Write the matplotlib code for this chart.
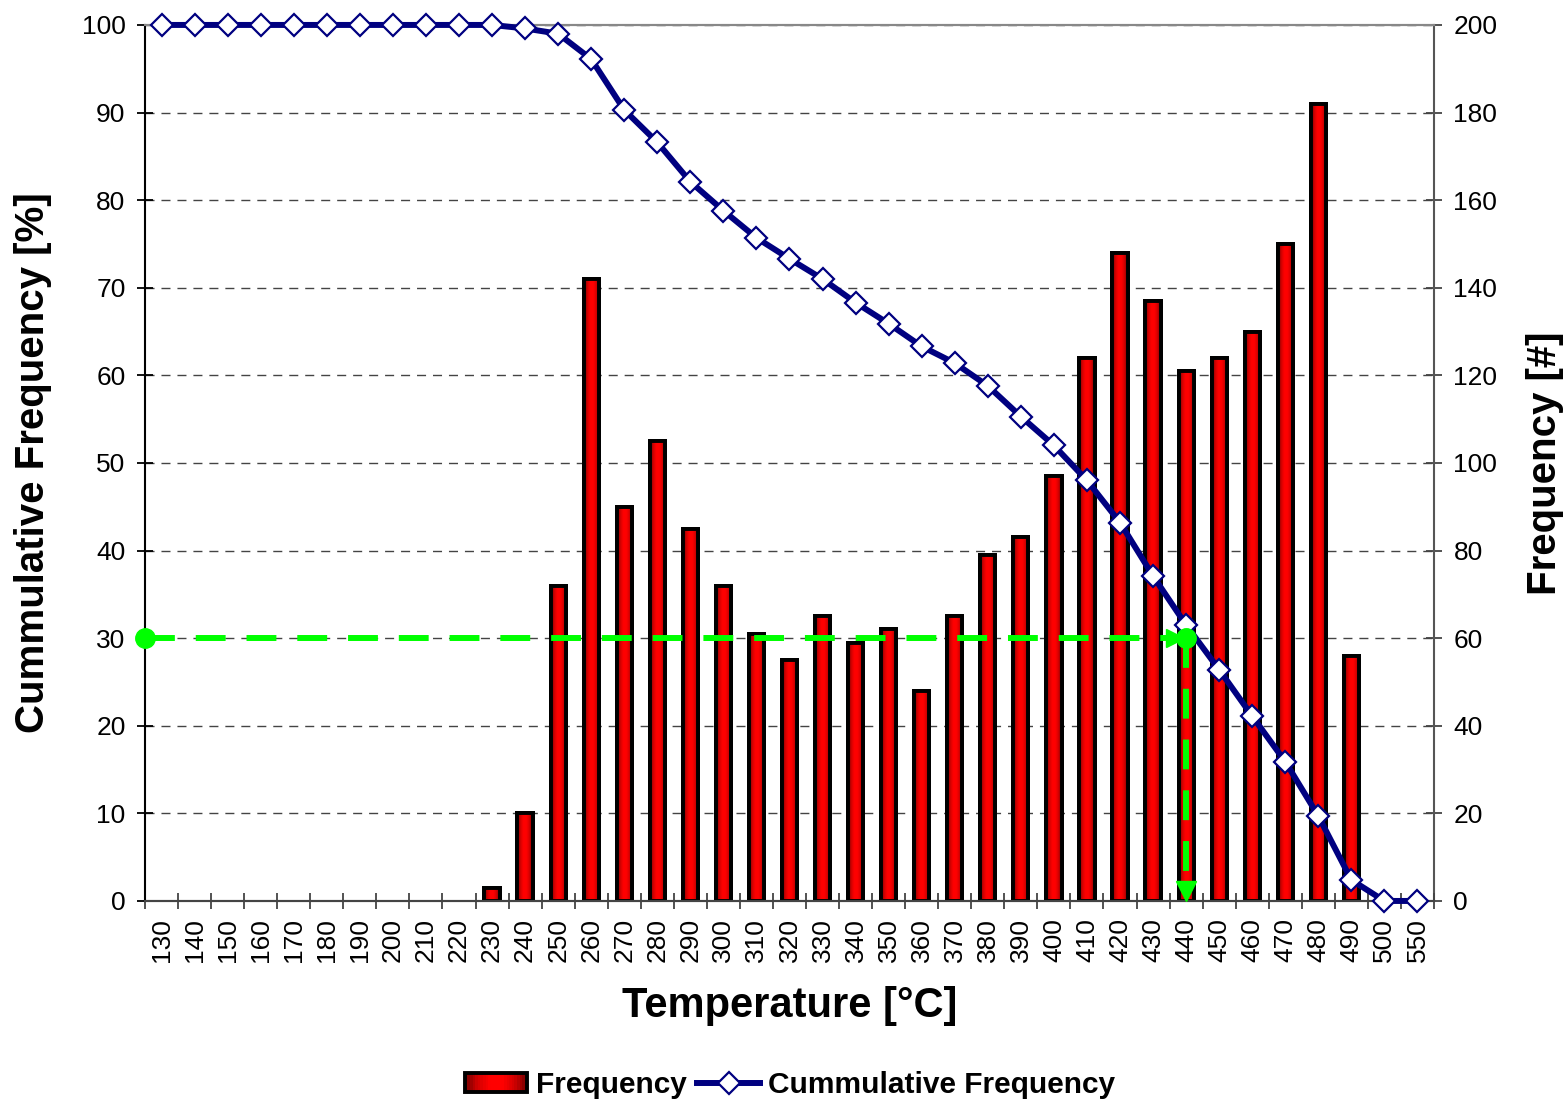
import numpy as np
import matplotlib
matplotlib.use("Agg")
import matplotlib.pyplot as plt
from matplotlib.colors import LinearSegmentedColormap
from matplotlib.patches import Rectangle
from matplotlib.lines import Line2D
from matplotlib.legend_handler import HandlerBase

plt.rcParams['font.family'] = ['Liberation Sans', 'DejaVu Sans']

# Temperature classes
temperatures = ["130", "140", "150", "160", "170", "180", "190", "200", "210", "220",
                "230", "240", "250", "260", "270", "280", "290", "300", "310", "320",
                "330", "340", "350", "360", "370", "380", "390", "400", "410", "420",
                "430", "440", "450", "460", "470", "480", "490", "500", "550"]

# Number of samples per class [#]
frequency = [0, 0, 0, 0, 0, 0, 0, 0, 0, 0,
             3, 20, 72, 142, 90, 105, 85, 72, 61, 55,
             65, 59, 62, 48, 65, 79, 83, 97, 124, 148,
             137, 121, 124, 130, 150, 182, 56, 0, 0]

# Share of samples at or above each class [%]
cumulative = [100, 100, 100, 100, 100, 100, 100, 100, 100, 100,
              100, 99.6, 99.0, 96.1, 90.3, 86.6, 82.1, 78.8, 75.7, 73.3,
              71.0, 68.3, 65.9, 63.3, 61.4, 58.8, 55.3, 52.0, 48.0, 43.2,
              37.1, 31.5, 26.4, 21.1, 15.9, 9.7, 2.4, 0, 0]

# Reading marker: 30 % exceeded at 440 °C
marker_level = 30
marker_temp = "440"

x = np.arange(len(temperatures))
bar_w = 0.46
edge_lw = 2.8
navy = "#000080"

fig = plt.figure(figsize=(15.66, 10.99), dpi=100)
ax = fig.add_axes([0.0926, 0.1802, 0.8231, 0.7971])
ax2 = ax.twinx()
ax.set_zorder(2)
ax2.set_zorder(1)
ax.patch.set_visible(False)

# Bars with a horizontal dark-bright-dark shading
bar_cmap = LinearSegmentedColormap.from_list(
    "barshade", ["#6e0000", "#d00000", "#ff0000", "#ff0000", "#d00000", "#6e0000"])
grad = np.linspace(0, 1, 64).reshape(1, -1)
bars = ax2.bar(x, frequency, width=bar_w, color="#ff0000", edgecolor="black",
               linewidth=edge_lw, zorder=3)
for rect in bars:
    h = rect.get_height()
    if h <= 0:
        rect.set_visible(False)
        continue
    x0 = rect.get_x()
    im = ax2.imshow(grad, extent=[x0, x0 + rect.get_width(), 0, h], aspect="auto",
                    cmap=bar_cmap, interpolation="bicubic", zorder=3.5)
    im.set_clip_path(rect)
    outline = Rectangle((x0, 0), rect.get_width(), h, fill=False,
                        edgecolor="black", linewidth=edge_lw, zorder=4)
    ax2.add_patch(outline)

ax2.set_ylim(0, 200)
ax2.set_yticks(np.arange(0, 201, 20))
ax2.set_axisbelow(True)
ax2.yaxis.grid(True, color="#444444", linestyle=(0, (6.5, 5)), linewidth=1.0)
ax2.set_ylabel("Frequency [#]", fontsize=29, fontweight="bold")
ax2.yaxis.set_label_coords(1.071, 0.5)

# Cumulative curve
ax.plot(x, cumulative, color=navy, linewidth=4.3, marker="D", markersize=11.5,
        markerfacecolor="white", markeredgecolor=navy, markeredgewidth=1.6,
        zorder=5, clip_on=False)

ax.set_ylim(0, 100)
ax.set_yticks(np.arange(0, 101, 10))
ax.set_xlim(-0.5, len(temperatures) - 0.5)
ax.set_ylabel("Cummulative Frequency [%]", fontsize=29, fontweight="bold")
ax.yaxis.set_label_coords(-0.072, 0.5)
ax.set_xlabel("Temperature [°C]", fontsize=30, fontweight="bold")
ax.xaxis.set_label_coords(0.5, -0.097)

# Green reading lines
xi = temperatures.index(marker_temp)
green = "#00ff00"
ax.plot([-0.5, xi], [marker_level, marker_level], color=green, linewidth=4.3,
        dashes=(5, 3.5), zorder=6, clip_on=False)
ax.plot([xi, xi], [marker_level, 1.5], color=green, linewidth=4.3,
        dashes=(5, 3.5), zorder=6, clip_on=False)
ax.plot([-0.5], [marker_level], "o", color=green, markersize=14, zorder=7, clip_on=False)
ax.plot([xi], [marker_level], "o", color=green, markersize=14, zorder=7, clip_on=False)
ax.plot([xi - 0.33], [marker_level], ">", color=green, markersize=13, zorder=7, clip_on=False)
ax.plot([xi], [1.1], "v", color=green, markersize=14, zorder=7, clip_on=False)

# Axis ticks and spines
ax.set_xticks(x)
ax.set_xticklabels(temperatures, rotation=90)
ax.set_xticks(np.arange(-0.5, len(temperatures), 1), minor=True)
ax.tick_params(axis="x", which="major", length=0, labelsize=19, pad=12)
ax.tick_params(axis="x", which="minor", length=12, direction="inout", width=1.3,
               color="#444444")
ax.tick_params(axis="y", labelsize=19, length=12, direction="inout", width=1.3, pad=8)
ax2.tick_params(axis="y", labelsize=19, length=12, direction="inout", width=1.3,
                color="#444444", pad=8)

for a in (ax, ax2):
    a.spines["top"].set_color("#888888")
    a.spines["top"].set_linewidth(1.5)
    a.spines["bottom"].set_color("#444444")
    a.spines["bottom"].set_linewidth(1.5)
ax.spines["left"].set_color("black")
ax.spines["left"].set_linewidth(1.5)
ax2.spines["right"].set_color("#555555")
ax2.spines["right"].set_linewidth(1.5)
ax.spines["right"].set_visible(False)
ax2.spines["left"].set_visible(False)


class GradientBarHandler(HandlerBase):
    def create_artists(self, legend, orig_handle, xdescent, ydescent, width, height,
                       fontsize, trans):
        x0, y0 = -xdescent, -ydescent
        n = 24
        arts = []
        for i in range(n):
            c = bar_cmap((i + 0.5) / n)
            arts.append(Rectangle((x0 + width * i / n, y0), width / n, height,
                                  facecolor=c, edgecolor="none", transform=trans))
        arts.append(Rectangle((x0, y0), width, height, fill=False, edgecolor="black",
                              linewidth=edge_lw, transform=trans))
        return arts


bar_handle = Rectangle((0, 0), 1, 1)
line_handle = Line2D([], [], color=navy, linewidth=4.3, marker="D", markersize=11.5,
                     markerfacecolor="white", markeredgecolor=navy,
                     markeredgewidth=1.6)
fig.legend([bar_handle, line_handle], ["Frequency", "Cummulative Frequency"],
           loc="center", bbox_to_anchor=(0.5045, 0.0127), ncol=2, frameon=False,
           prop={"size": 21.5, "weight": "bold"}, handlelength=2.1, handleheight=0.57,
           handletextpad=0.27, columnspacing=0.37,
           handler_map={Rectangle: GradientBarHandler()})

fig.savefig("out.png", dpi=100)
